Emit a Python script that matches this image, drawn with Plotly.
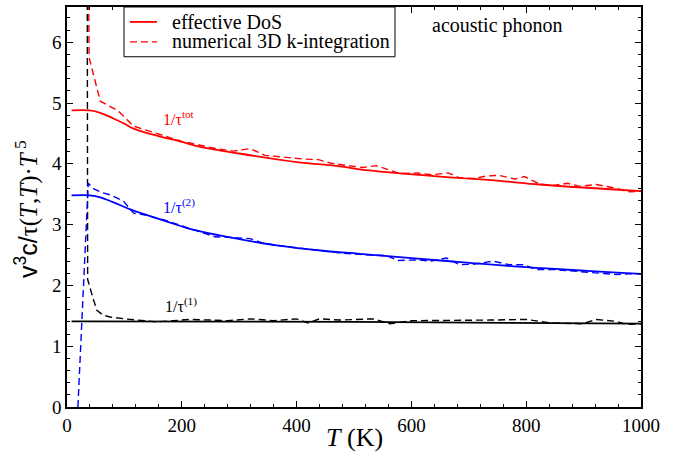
import plotly.graph_objects as go

# ---- data ----
T_tot_eff = [8, 40, 58, 80, 100, 116, 150, 200, 232, 300, 400, 475, 510, 650, 754, 823, 1000]
V_tot_eff = [4.88, 4.88, 4.84, 4.75, 4.66, 4.58, 4.48, 4.36, 4.28, 4.17, 4.03, 3.96, 3.91, 3.79, 3.72, 3.66, 3.55]

T_tot_num = [36, 38.5, 58, 88, 116, 140, 170, 200, 230, 260, 290, 319, 345, 380, 410, 438, 460, 490,
             515, 539, 560, 580, 610, 635, 664, 684, 710, 730, 753, 780, 797, 823, 845, 872, 893,
             922, 950, 980, 1000]
V_tot_num = [9.0, 5.75, 5.03, 4.88, 4.62, 4.55, 4.46, 4.37, 4.31, 4.25, 4.21, 4.25, 4.14, 4.11, 4.08,
             4.07, 4.01, 3.97, 3.94, 3.97, 3.90, 3.84, 3.85, 3.82, 3.85, 3.77, 3.76, 3.80, 3.81, 3.75,
             3.79, 3.67, 3.64, 3.68, 3.63, 3.66, 3.61, 3.54, 3.55]

T_2_eff = [8, 40, 58, 80, 116, 168, 214, 284, 365, 446, 510, 650, 800, 1000]
V_2_eff = [3.48, 3.48, 3.45, 3.37, 3.23, 3.07, 2.93, 2.79, 2.66, 2.57, 2.52, 2.41, 2.30, 2.19]

T_2_num = [19, 37, 46, 60, 75, 98, 116, 140, 168, 200, 230, 258, 284, 319, 340, 365, 400, 446, 480,
           510, 557, 577, 610, 635, 661, 684, 710, 742, 771, 797, 817, 850, 880, 920, 956, 980, 1000]
V_2_num = [0.0, 3.68, 3.59, 3.53, 3.49, 3.39, 3.19, 3.15, 3.08, 2.98, 2.88, 2.80, 2.79, 2.77, 2.70,
           2.66, 2.62, 2.57, 2.53, 2.51, 2.49, 2.41, 2.42, 2.40, 2.45, 2.34, 2.35, 2.40, 2.34, 2.34,
           2.26, 2.26, 2.24, 2.21, 2.18, 2.19, 2.19]

T_1_eff = [8, 500, 1000]
V_1_eff = [1.41, 1.40, 1.37]

T_1_num = [35, 36, 45, 52, 63, 75, 100, 130, 156, 185, 214, 250, 280, 320, 360, 400, 420, 440, 475,
           533, 562, 600, 640, 680, 736, 800, 846, 898, 922, 957, 974, 1000]
V_1_num = [9.0, 2.1, 1.8, 1.59, 1.51, 1.48, 1.45, 1.42, 1.40, 1.42, 1.44, 1.43, 1.42, 1.45, 1.42,
           1.45, 1.38, 1.45, 1.43, 1.45, 1.37, 1.42, 1.42, 1.42, 1.43, 1.44, 1.38, 1.37, 1.44, 1.41,
           1.36, 1.37]

X_TICKS = [0, 200, 400, 600, 800, 1000]
Y_TICKS = [0, 1, 2, 3, 4, 5, 6]
LEGEND_LABELS = ["effective DoS", "numerical 3D k-integration"]

SERIF = "Liberation Serif"
DASH = "7px,4px"

L, R, TOP, B = 67, 35, 5, 50
PW = 676 - L - R
PH = 457 - TOP - B


def px2paper(px, py):
    return (px - L) / PW, (457 - B - py) / PH


fig = go.Figure()
fig.add_trace(go.Scatter(x=T_1_eff, y=V_1_eff, mode="lines", line=dict(color="black", width=1.7)))
fig.add_trace(go.Scatter(x=T_1_num, y=V_1_num, mode="lines", line=dict(color="black", width=1.4, dash=DASH)))
fig.add_trace(go.Scatter(x=T_2_eff, y=V_2_eff, mode="lines", line=dict(color="#0000ff", width=1.8, shape="spline")))
fig.add_trace(go.Scatter(x=T_2_num, y=V_2_num, mode="lines", line=dict(color="#0000ff", width=1.4, dash=DASH)))
fig.add_trace(go.Scatter(x=T_tot_eff, y=V_tot_eff, mode="lines", line=dict(color="#ff0000", width=1.8, shape="spline")))
fig.add_trace(go.Scatter(x=T_tot_num, y=V_tot_num, mode="lines", line=dict(color="#ff0000", width=1.4, dash=DASH)))

axis_common = dict(showline=True, linecolor="black", linewidth=1.5, mirror="ticks", ticks="inside",
                   ticklen=6, tickwidth=1, tickcolor="black", showgrid=False, zeroline=False,
                   tickfont=dict(family=SERIF, size=19, color="black"))
fig.update_xaxes(range=[0, 1000], tickvals=X_TICKS, ticktext=[str(v) for v in X_TICKS],
                 minor=dict(dtick=40, ticks="inside", ticklen=3, tickcolor="black", showgrid=False),
                 **axis_common)
fig.update_yaxes(range=[0, 6.58], tickvals=Y_TICKS, ticktext=[str(v) for v in Y_TICKS],
                 minor=dict(dtick=0.2, ticks="inside", ticklen=3, tickcolor="black", showgrid=False),
                 **axis_common)

# manual legend (box, line samples, labels)
bx0, by0 = px2paper(124, 5)
bx1, by1 = px2paper(395, 55)
s0x, s1y = px2paper(130, 20)
s1x, s2y = px2paper(157, 40)
tx, _ = px2paper(170, 0)
shapes = [
    dict(type="rect", xref="paper", yref="paper", x0=bx0, x1=bx1, y0=by1, y1=by0,
         line=dict(color="black", width=1), fillcolor="white", layer="above"),
    dict(type="line", xref="paper", yref="paper", x0=s0x, x1=s1x, y0=s1y, y1=s1y,
         line=dict(color="#ff0000", width=1.8), layer="above"),
    dict(type="line", xref="paper", yref="paper", x0=s0x, x1=s1x, y0=s2y, y1=s2y,
         line=dict(color="#ff0000", width=1.4, dash=DASH), layer="above"),
]

ap_x, ap_y = px2paper(497, 24)
xt_x, xt_y = px2paper(354, 438)
yt_x, yt_y = px2paper(27, 208)

annotations = [
    dict(text=LEGEND_LABELS[0], x=tx, y=s1y, xref="paper", yref="paper", xanchor="left", yanchor="middle",
         showarrow=False, font=dict(family=SERIF, size=20, color="black")),
    dict(text=LEGEND_LABELS[1], x=tx, y=s2y, xref="paper", yref="paper", xanchor="left", yanchor="middle",
         showarrow=False, font=dict(family=SERIF, size=20, color="black")),
    dict(text="acoustic phonon", x=ap_x, y=ap_y, xref="paper", yref="paper", showarrow=False,
         xanchor="center", yanchor="middle",
         font=dict(family=SERIF, size=20, color="black")),
    dict(text="1/τ<sup>tot</sup>", x=195, y=4.76, xref="x", yref="y", showarrow=False,
         font=dict(family=SERIF, size=16, color="#ff0000")),
    dict(text="1/τ<sup>(2)</sup>", x=195, y=3.30, xref="x", yref="y", showarrow=False,
         font=dict(family=SERIF, size=16, color="#0000ff")),
    dict(text="1/τ<sup>(1)</sup>", x=198, y=1.68, xref="x", yref="y", showarrow=False,
         font=dict(family=SERIF, size=16, color="black")),
    dict(text="<i>T</i> (K)", x=xt_x, y=xt_y, xref="paper", yref="paper",
         xanchor="center", yanchor="middle",
         showarrow=False, font=dict(family=SERIF, size=26, color="black")),
    dict(text=("<span style='font-family:Liberation Sans'>v<sup>3</sup>c/</span>"
               "τ(<i>T</i>,<i>T</i>)·<i>T</i><sup> 5</sup>"),
         x=yt_x, y=yt_y, xref="paper", yref="paper", xanchor="center", yanchor="middle",
         textangle=-90, showarrow=False, font=dict(family=SERIF, size=25, color="black")),
]

fig.update_layout(
    width=676, height=457,
    margin=dict(l=L, r=R, t=TOP, b=B),
    paper_bgcolor="white", plot_bgcolor="white",
    showlegend=False,
    shapes=shapes,
    annotations=annotations,
)

fig.write_html("out.html")
